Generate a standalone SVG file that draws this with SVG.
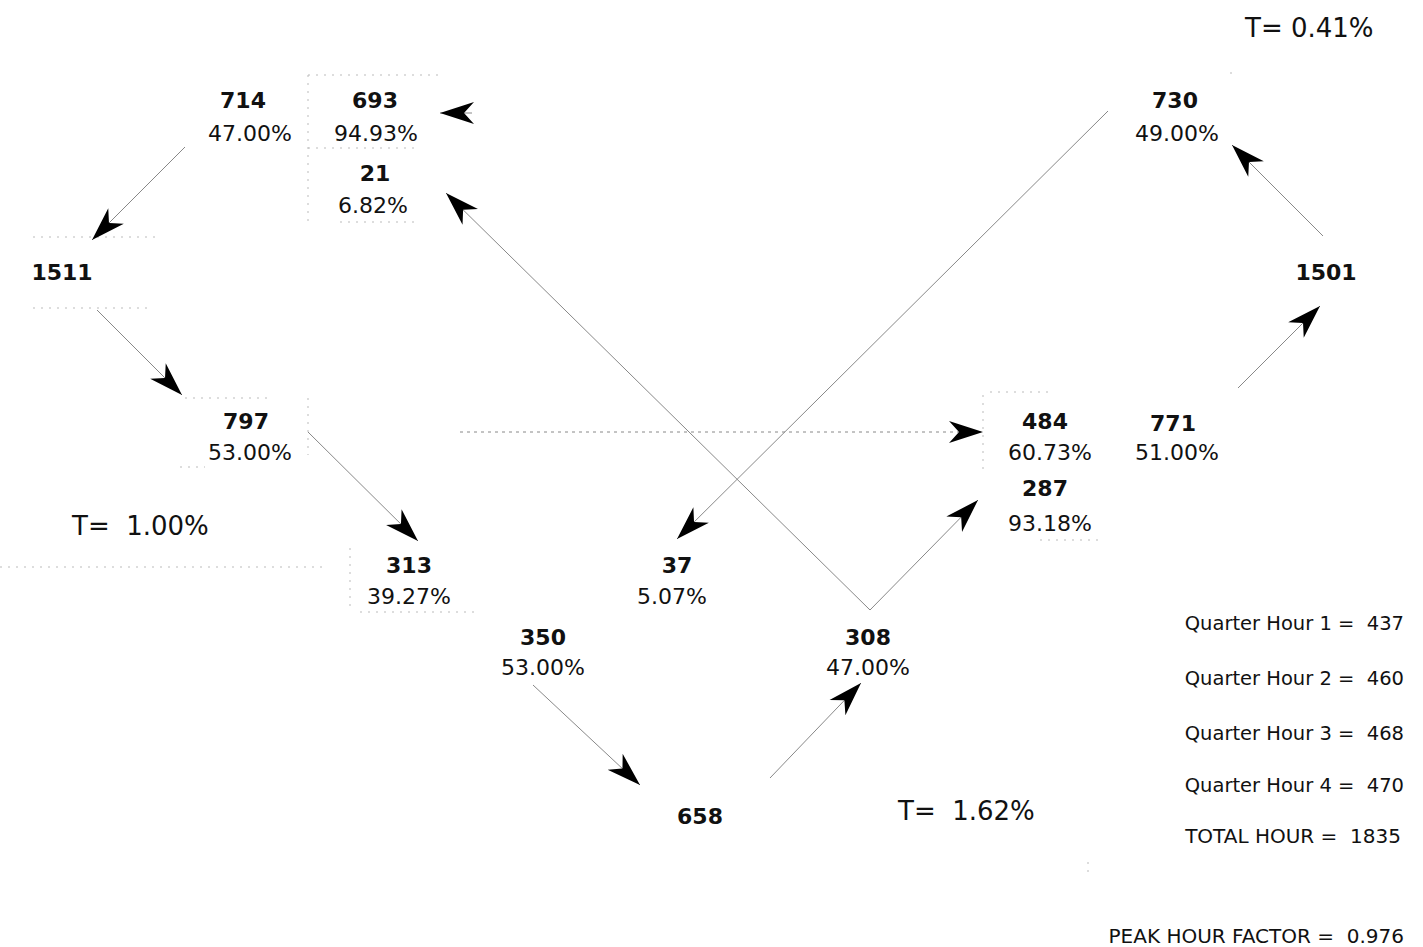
<svg xmlns="http://www.w3.org/2000/svg" width="1423" height="947" viewBox="0 0 1423 947">
<style>
.n{font-family:"DejaVu Sans",sans-serif;font-weight:bold;font-size:22px;fill:#111;text-anchor:middle}
.p{font-family:"DejaVu Sans",sans-serif;font-size:22px;fill:#111;text-anchor:middle}
.t{font-family:"DejaVu Sans",sans-serif;font-size:26px;fill:#111}
.q{font-family:"DejaVu Sans",sans-serif;font-size:19.5px;fill:#111;text-anchor:end}
.u{font-family:"DejaVu Sans",sans-serif;font-size:20px;fill:#111;text-anchor:end}
.c{stroke:#888;stroke-width:1;fill:none;marker-end:url(#ah)}
.d{stroke:#888;stroke-width:1;fill:none;stroke-dasharray:3,4;marker-end:url(#ah)}
.f{stroke:#bbb;stroke-width:1;fill:none;stroke-dasharray:2,6}
</style>
<defs>
<marker id="ah" viewBox="-36 -12 38 24" refX="0" refY="0" markerWidth="38" markerHeight="24" markerUnits="userSpaceOnUse" orient="auto">
<path d="M0,0 L-34,-11 L-24,0 L-34,11 Z" fill="#000"/>
</marker>
</defs>
<rect width="1423" height="947" fill="#fff"/>
<g id="frames">
<path class="f" d="M308,75 H438 M308,75 V222 M308,148 H418 M340,222 H420"/>
<path class="f" d="M33,237 H155 M33,308 H150"/>
<path class="f" d="M308,398 V455 M185,398 H270 M180,467 H205"/>
<path class="f" d="M0,567 H325 M350,548 V612 M360,612 H480"/>
<path class="f" d="M983,395 V470 M990,392 H1050 M1040,540 H1100 M1230,73 H1236"/>
<path class="f" d="M1088,862 V876"/>
</g>
<g id="connectors">
<line class="c" x1="185" y1="147" x2="92" y2="240"/>
<line class="c" x1="97" y1="310" x2="182" y2="395"/>
<line class="c" x1="308" y1="432" x2="418" y2="541"/>
<line class="c" x1="533" y1="685" x2="640" y2="785"/>
<line class="c" x1="770" y1="778" x2="861" y2="683"/>
<line class="c" x1="870" y1="610" x2="978" y2="500"/>
<line class="c" x1="870" y1="610" x2="446" y2="193"/>
<line class="c" x1="1238" y1="388" x2="1320" y2="306"/>
<line class="c" x1="1323" y1="236" x2="1232" y2="145"/>
<line class="c" x1="1108" y1="111" x2="677" y2="539"/>
<line class="d" x1="460" y1="432" x2="983" y2="432"/>
<line class="c" x1="472" y1="113" x2="440" y2="113"/>
</g>
<g id="n714"><text class="n" x="243" y="108">714</text><text class="p" x="250" y="141">47.00%</text></g>
<g id="n693"><text class="n" x="375" y="108">693</text><text class="p" x="376" y="141">94.93%</text></g>
<g id="n21"><text class="n" x="375" y="181">21</text><text class="p" x="373" y="213">6.82%</text></g>
<g id="n1511"><text class="n" x="62" y="280">1511</text></g>
<g id="n797"><text class="n" x="246" y="429">797</text><text class="p" x="250" y="460">53.00%</text></g>
<g id="t1"><text class="t" x="72" y="535">T=&#160; 1.00%</text></g>
<g id="n313"><text class="n" x="409" y="573">313</text><text class="p" x="409" y="604">39.27%</text></g>
<g id="n37"><text class="n" x="677" y="573">37</text><text class="p" x="672" y="604">5.07%</text></g>
<g id="n350"><text class="n" x="543" y="645">350</text><text class="p" x="543" y="675">53.00%</text></g>
<g id="n308"><text class="n" x="868" y="645">308</text><text class="p" x="868" y="675">47.00%</text></g>
<g id="n658"><text class="n" x="700" y="824">658</text></g>
<g id="t2"><text class="t" x="898" y="820">T=&#160; 1.62%</text></g>
<g id="n484"><text class="n" x="1045" y="429">484</text><text class="p" x="1050" y="460">60.73%</text></g>
<g id="n771"><text class="n" x="1173" y="431">771</text><text class="p" x="1177" y="460">51.00%</text></g>
<g id="n287"><text class="n" x="1045" y="496">287</text><text class="p" x="1050" y="531">93.18%</text></g>
<g id="n730"><text class="n" x="1175" y="108">730</text><text class="p" x="1177" y="141">49.00%</text></g>
<g id="n1501"><text class="n" x="1326" y="280">1501</text></g>
<g id="t3"><text class="t" x="1245" y="37">T= 0.41%</text></g>
<g id="stats">
<text class="q" x="1404" y="630">Quarter Hour 1 =&#160; 437</text>
<text class="q" x="1404" y="685">Quarter Hour 2 =&#160; 460</text>
<text class="q" x="1404" y="740">Quarter Hour 3 =&#160; 468</text>
<text class="q" x="1404" y="792">Quarter Hour 4 =&#160; 470</text>
<text class="u" x="1401" y="843">TOTAL HOUR =&#160; 1835</text>
<text class="u" x="1404" y="943">PEAK HOUR FACTOR =&#160; 0.976</text>
</g>
</svg>
